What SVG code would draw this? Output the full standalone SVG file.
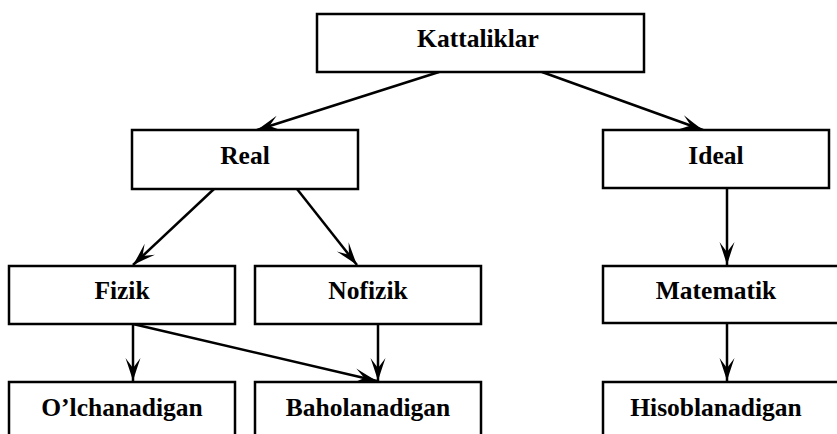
<svg xmlns="http://www.w3.org/2000/svg" width="837" height="434" viewBox="0 0 837 434">
  <style>
    .box { fill: #ffffff; stroke: #000000; stroke-width: 2.5; }
    .label { font-family: "Liberation Serif", "Times New Roman", serif; font-weight: bold; font-size: 25.5px; fill: #000000; text-anchor: middle; }
    .edge { fill: none; stroke: #000000; stroke-width: 2.5; marker-end: url(#arrow); }
  </style>
  <defs>
    <marker id="arrow" markerUnits="userSpaceOnUse" markerWidth="28" markerHeight="20" viewBox="-25 -10 27 20" refX="0" refY="0" orient="auto">
      <path d="M0,0 Q-10,-3 -23,-7.5 L-13,0 L-23,7.5 Q-10,3 0,0 Z" fill="#000000"/>
    </marker>
  </defs>
  <rect width="837" height="434" fill="#ffffff"/>

  <g id="connectors">
    <line class="edge" x1="439" y1="72" x2="257" y2="130"/>
    <line class="edge" x1="542" y1="72" x2="703" y2="130"/>
    <line class="edge" x1="214" y1="189" x2="133" y2="265"/>
    <line class="edge" x1="297" y1="189" x2="357" y2="265"/>
    <line class="edge" x1="133" y1="324" x2="133" y2="381"/>
    <line class="edge" x1="133" y1="324" x2="377" y2="381"/>
    <line class="edge" x1="378" y1="324" x2="378" y2="381"/>
    <line class="edge" x1="727" y1="189" x2="727" y2="265"/>
    <line class="edge" x1="727" y1="323" x2="727" y2="381"/>
  </g>

  <g id="node-kattaliklar">
    <rect class="box" x="317" y="14" width="327" height="58"/>
    <text class="label" x="478" y="47">Kattaliklar</text>
  </g>
  <g id="node-real">
    <rect class="box" x="132" y="130" width="226" height="59"/>
    <text class="label" x="245" y="164">Real</text>
  </g>
  <g id="node-ideal">
    <rect class="box" x="603" y="130" width="226" height="58"/>
    <text class="label" x="716" y="164">Ideal</text>
  </g>
  <g id="node-fizik">
    <rect class="box" x="9" y="266" width="226" height="58"/>
    <text class="label" x="122" y="299">Fizik</text>
  </g>
  <g id="node-nofizik">
    <rect class="box" x="255" y="266" width="226" height="58"/>
    <text class="label" x="368" y="299">Nofizik</text>
  </g>
  <g id="node-matematik">
    <rect class="box" x="603" y="266" width="240" height="57"/>
    <text class="label" x="716" y="299">Matematik</text>
  </g>
  <g id="node-olchanadigan">
    <rect class="box" x="9" y="382" width="226" height="60"/>
    <text class="label" x="122" y="416">O’lchanadigan</text>
  </g>
  <g id="node-baholanadigan">
    <rect class="box" x="255" y="382" width="226" height="60"/>
    <text class="label" x="368" y="416">Baholanadigan</text>
  </g>
  <g id="node-hisoblanadigan">
    <rect class="box" x="603" y="382" width="240" height="60"/>
    <text class="label" x="716" y="416">Hisoblanadigan</text>
  </g>
</svg>
